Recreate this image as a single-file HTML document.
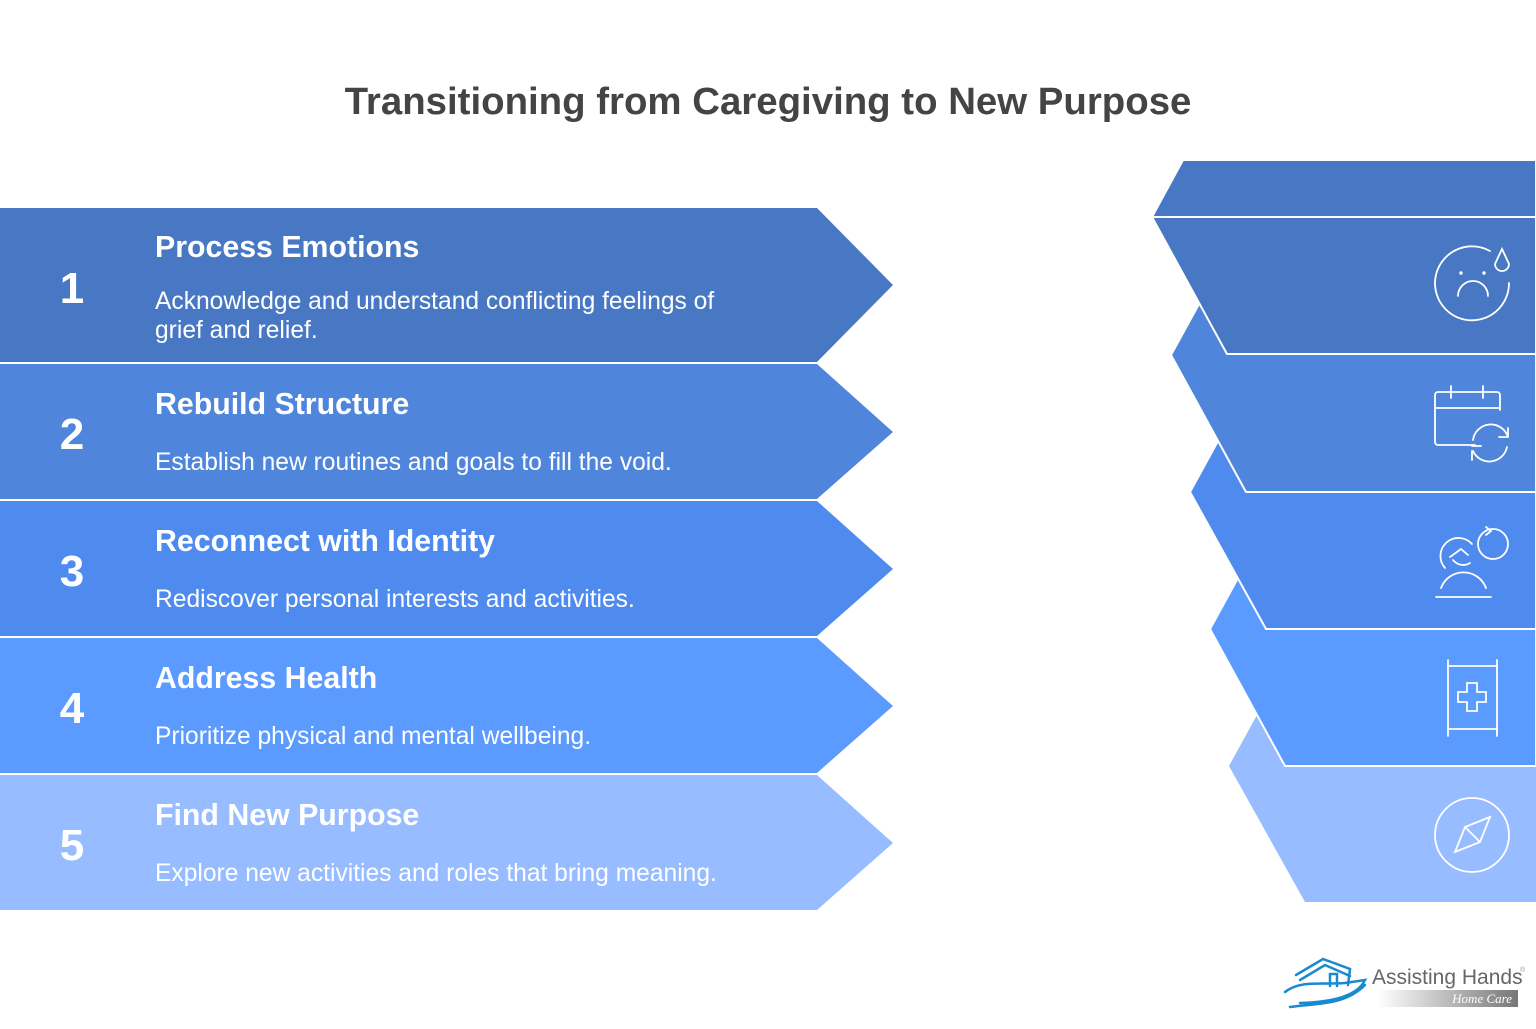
<!DOCTYPE html>
<html><head><meta charset="utf-8"><style>
body{margin:0;width:1536px;height:1024px;background:#fff;overflow:hidden;font-family:"Liberation Sans",Arial,sans-serif;}
</style></head><body>
<svg width="1536" height="1024" viewBox="0 0 1536 1024" xmlns="http://www.w3.org/2000/svg" font-family="Liberation Sans, Arial, sans-serif">
<text x="768" y="114" text-anchor="middle" font-size="38.4" font-weight="bold" fill="#444">Transitioning from Caregiving to New Purpose</text>

<polygon points="0,208 817,208 893,285 817,362 0,362" fill="#4878c4"/>
<polygon points="0,364 817,364 893,432 817,499 0,499" fill="#4f86dc"/>
<polygon points="0,501 817,501 893,569 817,636 0,636" fill="#4f8bef"/>
<polygon points="0,638 817,638 893,706 817,773 0,773" fill="#5b9aff"/>
<polygon points="0,775 817,775 893,843 817,910 0,910" fill="#97bcff"/>

<g fill="#fff" font-weight="bold" font-size="44" text-anchor="middle">
<text x="72" y="303">1</text><text x="72" y="449">2</text><text x="72" y="586">3</text><text x="72" y="723">4</text><text x="72" y="860">5</text>
</g>
<g fill="#fff" font-weight="bold" font-size="30.3">
<text x="155" y="257">Process Emotions</text>
<text x="155" y="414">Rebuild Structure</text>
<text x="155" y="551">Reconnect with Identity</text>
<text x="155" y="688">Address Health</text>
<text x="155" y="825">Find New Purpose</text>
</g>
<g fill="#fff" font-size="24.6">
<text x="155" y="309">Acknowledge and understand conflicting feelings of</text>
<text x="155" y="338">grief and relief.</text>
<text x="155" y="470">Establish new routines and goals to fill the void.</text>
<text x="155" y="607">Rediscover personal interests and activities.</text>
<text x="155" y="744">Prioritize physical and mental wellbeing.</text>
<text x="155" y="881">Explore new activities and roles that bring meaning.</text>
</g>

<polygon points="1229,766 1257,715 1536,715 1536,902 1305,902" fill="#97bcff"/>
<polygon points="1210,629 1238,578 1536,578 1536,766 1285,766" fill="#5b9aff" stroke="#fff" stroke-width="2"/>
<polygon points="1190,492 1218,441 1536,441 1536,629 1266,629" fill="#4f8bef" stroke="#fff" stroke-width="2"/>
<polygon points="1171,355 1199,304 1536,304 1536,492 1246,492" fill="#4f86dc" stroke="#fff" stroke-width="2"/>
<polygon points="1152,217 1183,160 1536,160 1536,354 1227,354" fill="#4878c4" stroke="#fff" stroke-width="2"/>
<line x1="1152" y1="217" x2="1536" y2="217" stroke="#fff" stroke-width="2"/>
<rect x="1536" y="150" width="10" height="760" fill="#fff"/>

<g fill="none" stroke="#fff" stroke-width="1.8" stroke-linecap="round">
<path d="M1490,251 A37,37 0 1 0 1509,283"/>
<circle cx="1461" cy="273" r="0.8" fill="#fff"/><circle cx="1484" cy="273" r="0.8" fill="#fff"/>
<path d="M1458,296 A15,15 0 0 1 1488,296"/>
<path d="M1502,249 L1495,264 A7,7 0 1 0 1509,264 Z"/>
<path d="M1475,445 H1438 A3,3 0 0 1 1435,442 V395 A3,3 0 0 1 1438,392 H1497 A3,3 0 0 1 1500,395 V410"/>
<line x1="1435" y1="408" x2="1500" y2="408"/><line x1="1451" y1="386" x2="1451" y2="398"/><line x1="1483" y1="386" x2="1483" y2="398"/>
<path d="M1473,440 A18,18 0 0 1 1508,437 M1508,437 V428 M1508,437 H1499"/>
<path d="M1507,447 A18,18 0 0 1 1473,451 M1472,451 V460 M1472,446 H1481"/>
<line x1="1436" y1="597" x2="1491" y2="597"/>
<path d="M1441,588 A24,24 0 0 1 1486,588"/>
<path d="M1472,544 A15,15 0 0 0 1445,568 M1450,557 L1461,549 L1468,555 M1470,563 A13,13 0 0 1 1453,560"/>
<circle cx="1493" cy="544" r="15"/><path d="M1486,527 L1491,531 L1486,535"/>
<line x1="1448" y1="660" x2="1448" y2="736"/><line x1="1497" y1="660" x2="1497" y2="736"/>
<line x1="1448" y1="666" x2="1497" y2="666"/><line x1="1448" y1="729" x2="1497" y2="729"/>
<path d="M1467,683 h10 v9 h9 v10 h-9 v9 h-10 v-9 h-9 v-10 h9 z"/>
<circle cx="1472" cy="835" r="37"/>
<path d="M1490,817 L1465,827 L1455,852 L1480,842 Z M1465,827 L1480,842"/>
</g>

<g fill="none" stroke="#1a8ad0" stroke-width="2.5" stroke-linecap="round">
<path d="M1296,975 L1323,959 L1350,969 L1348,985 M1300,980 L1325,965 L1350,976"/>
<path d="M1285,992 C1300,980 1320,985 1345,983 L1365,980 C1358,995 1335,1002 1300,1003 M1290,1007 C1320,1003 1345,1005 1365,985"/>
<path d="M1330,986 V974 H1337 V986"/>
</g>
<text x="1372" y="984" font-size="21" fill="#666">Assisting Hands</text>
<text x="1520" y="972" font-size="7" fill="#999">®</text>
<defs><linearGradient id="g" x1="0" x2="1"><stop offset="0" stop-color="#fff"/><stop offset="1" stop-color="#777"/></linearGradient></defs>
<rect x="1378" y="990" width="140" height="17" fill="url(#g)"/>
<text x="1512" y="1003" font-size="13" font-style="italic" font-family="Liberation Serif, serif" fill="#fff" text-anchor="end">Home Care</text>
</svg>
</body></html>
